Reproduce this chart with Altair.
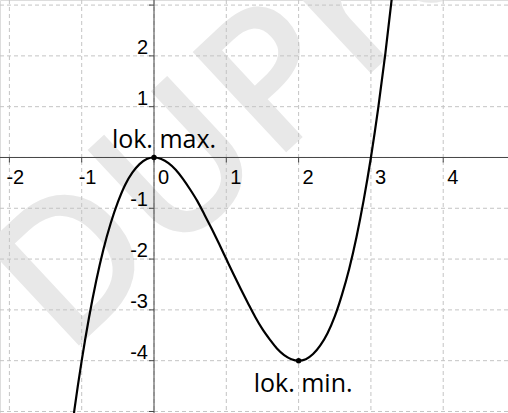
import altair as alt
import pandas as pd

# Curve samples of f(x)
curve_x = [-1.15, -1.1, -1.0, -0.9, -0.8, -0.7, -0.6, -0.5, -0.4, -0.3, -0.2, -0.1,
           0.0, 0.1, 0.2, 0.3, 0.4, 0.5, 0.6, 0.7, 0.8, 0.9, 1.0, 1.1, 1.2, 1.3,
           1.4, 1.5, 1.6, 1.7, 1.8, 1.9, 2.0, 2.1, 2.2, 2.3, 2.4, 2.5, 2.6, 2.7,
           2.8, 2.9, 3.0, 3.1, 3.2, 3.3, 3.4]
curve_y = [-5.49, -4.96, -4.00, -3.16, -2.43, -1.81, -1.30, -0.88, -0.54, -0.30, -0.13, -0.03,
           0.00, -0.03, -0.11, -0.24, -0.42, -0.63, -0.86, -1.13, -1.41, -1.70, -2.00, -2.30, -2.59, -2.87,
           -3.14, -3.38, -3.58, -3.76, -3.89, -3.97, -4.00, -3.97, -3.87, -3.70, -3.46, -3.13, -2.70, -2.19,
           -1.57, -0.84, 0.00, 0.96, 2.05, 3.27, 4.62]

# Extrema
extrema_x = [0, 2]
extrema_y = [0, -4]
extrema_labels = ["lok. max.", "lok. min."]

# Axis ticks and their labels
x_ticks = [-2, -1, 0, 1, 2, 3, 4]
y_ticks = [-5, -4, -3, -2, -1, 0, 1, 2, 3]
x_neg_label_values = [-2, -1]
x_neg_labels = ["-2", "-1"]
x_pos_label_values = [0, 1, 2, 3, 4]
x_pos_labels = ["0", "1", "2", "3", "4"]
y_tick_label_values = [-4, -3, -2, -1, 1, 2]
y_tick_labels = ["-4", "-3", "-2", "-1", "1", "2"]

X_DOMAIN = [-2.13, 4.896]
Y_DOMAIN = [-5.03, 3.10]
W, H = 508, 413

xs = alt.Scale(domain=X_DOMAIN, nice=False, zero=False)
ys = alt.Scale(domain=Y_DOMAIN, nice=False, zero=False)

curve = pd.DataFrame({"x": curve_x, "y": curve_y})
ext = pd.DataFrame({"x": extrema_x, "y": extrema_y, "label": extrema_labels})
xg = pd.DataFrame({"v": x_ticks, "zero": 0})
yg = pd.DataFrame({"v": y_ticks, "zero": 0})
xneg = pd.DataFrame({"v": x_neg_label_values, "label": x_neg_labels, "zero": 0})
xpos = pd.DataFrame({"v": x_pos_label_values, "label": x_pos_labels, "zero": 0})
yl = pd.DataFrame({"v": y_tick_label_values, "label": y_tick_labels, "zero": 0})
origin = pd.DataFrame({"zero": [0]})

AXIS_COLOR = "#444444"
GRID_COLOR = "#c4c4c4"
TICK_FONT = "Liberation Sans"
NOTE_FONT = "Open Sans"


def X(f):
    return alt.X(f, type="quantitative", scale=xs, axis=None)


def Y(f):
    return alt.Y(f, type="quantitative", scale=ys, axis=None)


watermark = alt.Chart(pd.DataFrame({"x": [-1.22], "y": [-3.94], "t": ["DUPress"]})).mark_text(
    angle=317, fontSize=192, font="Open Sans", fontWeight=600, color="#e8e8e8",
    align="left", baseline="alphabetic", clip=True
).encode(x=X("x"), y=Y("y"), text="t:N")

vgrid = alt.Chart(xg).mark_rule(color=GRID_COLOR, strokeWidth=1, strokeDash=[4, 3]).encode(
    x=X("v"), y=alt.value(0), y2=alt.value(H))
hgrid = alt.Chart(yg).mark_rule(color=GRID_COLOR, strokeWidth=1, strokeDash=[4, 3]).encode(
    y=Y("v"), x=alt.value(0), x2=alt.value(W))

xaxis = alt.Chart(origin).mark_rule(color=AXIS_COLOR, strokeWidth=1).encode(
    y=Y("zero"), x=alt.value(0), x2=alt.value(W))
yaxis = alt.Chart(origin).mark_rule(color=AXIS_COLOR, strokeWidth=1).encode(
    x=X("zero"), y=alt.value(0), y2=alt.value(H))

xticks = alt.Chart(xg).mark_rule(color=AXIS_COLOR, strokeWidth=1, y2Offset=5).encode(
    x=X("v"), y=Y("zero"), y2="zero:Q")
yticks = alt.Chart(yg).mark_rule(color=AXIS_COLOR, strokeWidth=1, xOffset=-5).encode(
    y=Y("v"), x=X("zero"), x2="zero:Q")

xlabels_neg = alt.Chart(xneg).mark_text(
    font=TICK_FONT, fontSize=20, color="#000000", align="left",
    baseline="alphabetic", dx=-3, dy=27
).encode(x=X("v"), y=Y("zero"), text="label:N")
xlabels_pos = alt.Chart(xpos).mark_text(
    font=TICK_FONT, fontSize=20, color="#000000", align="left",
    baseline="alphabetic", dx=4, dy=27
).encode(x=X("v"), y=Y("zero"), text="label:N")
ylabels = alt.Chart(yl).mark_text(
    font=TICK_FONT, fontSize=20, color="#000000", align="right",
    baseline="alphabetic", dx=-6, dy=-2
).encode(y=Y("v"), x=X("zero"), text="label:N")

line = alt.Chart(curve).mark_line(color="#000000", strokeWidth=2.2, clip=True,
                                  interpolate="monotone").encode(
    x=X("x"), y=Y("y"), order="x:Q")

points = alt.Chart(ext).mark_point(filled=True, color="#000000", size=30, opacity=1).encode(
    x=X("x"), y=Y("y"))

max_label = alt.Chart(ext.iloc[[0]]).mark_text(
    font=NOTE_FONT, fontSize=25, color="#000000", align="center",
    baseline="alphabetic", dx=10, dy=-9.5
).encode(x=X("x"), y=Y("y"), text="label:N")
min_label = alt.Chart(ext.iloc[[1]]).mark_text(
    font=NOTE_FONT, fontSize=25, color="#000000", align="center",
    baseline="alphabetic", dx=4.5, dy=31
).encode(x=X("x"), y=Y("y"), text="label:N")

chart = alt.layer(
    watermark, vgrid, hgrid, xaxis, yaxis, xticks, yticks,
    xlabels_neg, xlabels_pos, ylabels, line, points, max_label, min_label
).properties(
    width=W, height=H, padding=0, autosize=alt.AutoSizeParams(type="none")
).configure_view(stroke=None).configure(background="#ffffff")

chart.save("out.html", embed_options={"renderer": "svg", "actions": False})
